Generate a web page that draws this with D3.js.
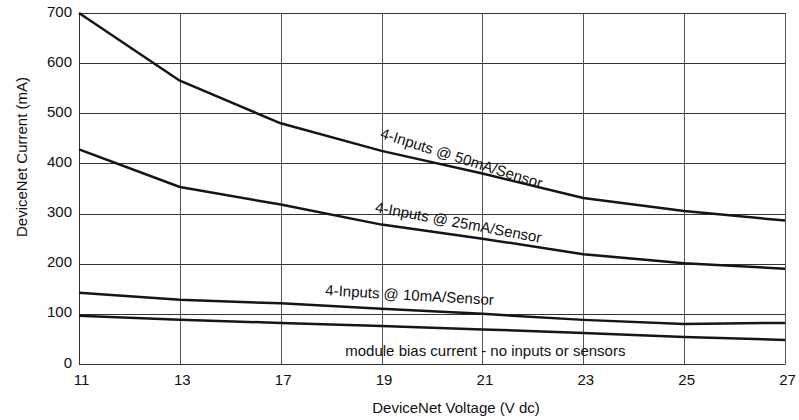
<!DOCTYPE html>
<html>
<head>
<meta charset="utf-8">
<script src="https://cdn.jsdelivr.net/npm/d3@7"></script>
<style>
  body { margin: 0; background: #fff; }
  svg { display: block; font-family: "Liberation Sans", Arial, Helvetica, sans-serif; }
  .tick-label { font-size: 15px; fill: #111; }
  .axis-title { font-size: 15px; fill: #111; }
  .note { font-size: 15px; fill: #111; }
</style>
</head>
<body>
<div id="chart"></div>
<script>
// voltage categories (evenly spaced on the original chart, 15 V is skipped)
const voltages = [11, 13, 17, 19, 21, 23, 25, 27];
const yTicks = [0, 100, 200, 300, 400, 500, 600, 700];

// current draw in mA
const sensors50mA = [700, 565, 480, 425, 380, 331, 305, 286];
const sensors25mA = [428, 353, 318, 278, 250, 219, 201, 190];
const sensors10mA = [142, 128, 121, 110, 100, 88, 80, 82];
const biasCurrent = [96, 88, 82, 76, 69, 62, 54, 48];

const seriesList = [sensors50mA, sensors25mA, sensors10mA, biasCurrent];

// in-plot captions: pos = fractional category index, value = mA at baseline start
const notes = [
  { text: "4-Inputs @ 50mA/Sensor", pos: 2.98, value: 451, angle: 17.5 },
  { text: "4-Inputs @ 25mA/Sensor", pos: 2.93, value: 303, angle: 10.5 },
  { text: "4-Inputs @ 10mA/Sensor", pos: 2.44, value: 137, angle: 3.3 },
  { text: "module bias current - no inputs or sensors", pos: 2.64, value: 16, angle: 0 }
];

const width = 799, height = 420;
const margin = { top: 13, right: 14, bottom: 56, left: 79 };
const plotW = width - margin.left - margin.right;
const plotH = height - margin.top - margin.bottom;

const svg = d3.select("#chart").append("svg")
    .attr("width", width)
    .attr("height", height);

const g = svg.append("g")
    .attr("transform", `translate(${margin.left},${margin.top})`);

const x = d3.scalePoint()
    .domain(voltages)
    .range([0, plotW]);

const xIndex = d3.scaleLinear()
    .domain([0, voltages.length - 1])
    .range([0, plotW]);

const y = d3.scaleLinear()
    .domain([0, 700])
    .range([plotH, 0]);

// grid
g.append("g")
    .selectAll("line")
    .data(yTicks)
    .join("line")
    .attr("x1", 0)
    .attr("x2", plotW)
    .attr("y1", d => Math.round(y(d)) + 0.5)
    .attr("y2", d => Math.round(y(d)) + 0.5)
    .attr("stroke", "#333")
    .attr("stroke-width", 1);

g.append("g")
    .selectAll("line")
    .data(voltages)
    .join("line")
    .attr("x1", d => Math.round(x(d)) + 0.5)
    .attr("x2", d => Math.round(x(d)) + 0.5)
    .attr("y1", 0)
    .attr("y2", plotH)
    .attr("stroke", "#555")
    .attr("stroke-width", 1);

// axes
const xAxis = g.append("g")
    .attr("transform", `translate(0,${plotH})`)
    .call(d3.axisBottom(x).tickSize(0).tickPadding(10));
xAxis.select(".domain").attr("stroke", "#333");
xAxis.selectAll("text").attr("class", "tick-label").attr("font-size", null).attr("font-family", null)
    .attr("dx", 2);

const yAxis = g.append("g")
    .call(d3.axisLeft(y).tickValues(yTicks).tickSize(0).tickPadding(7));
yAxis.select(".domain").attr("stroke", "#333");
yAxis.selectAll("text").attr("class", "tick-label").attr("font-size", null).attr("font-family", null)
    .attr("dy", "0.2em");

// series lines
const line = d3.line()
    .x((d, i) => x(voltages[i]))
    .y(d => y(d));

g.append("g")
    .selectAll("path")
    .data(seriesList)
    .join("path")
    .attr("d", line)
    .attr("fill", "none")
    .attr("stroke", "#151515")
    .attr("stroke-width", 2.5)
    .attr("stroke-linejoin", "round");

// captions
g.append("g")
    .selectAll("text")
    .data(notes)
    .join("text")
    .attr("class", "note")
    .attr("transform", d => `translate(${xIndex(d.pos)},${y(d.value)}) rotate(${d.angle})`)
    .text(d => d.text);

// axis titles
svg.append("text")
    .attr("class", "axis-title")
    .attr("x", margin.left + plotW / 2 + 24)
    .attr("y", 413)
    .attr("text-anchor", "middle")
    .text("DeviceNet Voltage (V dc)");

svg.append("text")
    .attr("class", "axis-title")
    .attr("transform", `translate(27,${157}) rotate(-90)`)
    .attr("text-anchor", "middle")
    .text("DeviceNet Current (mA)");
</script>
</body>
</html>
